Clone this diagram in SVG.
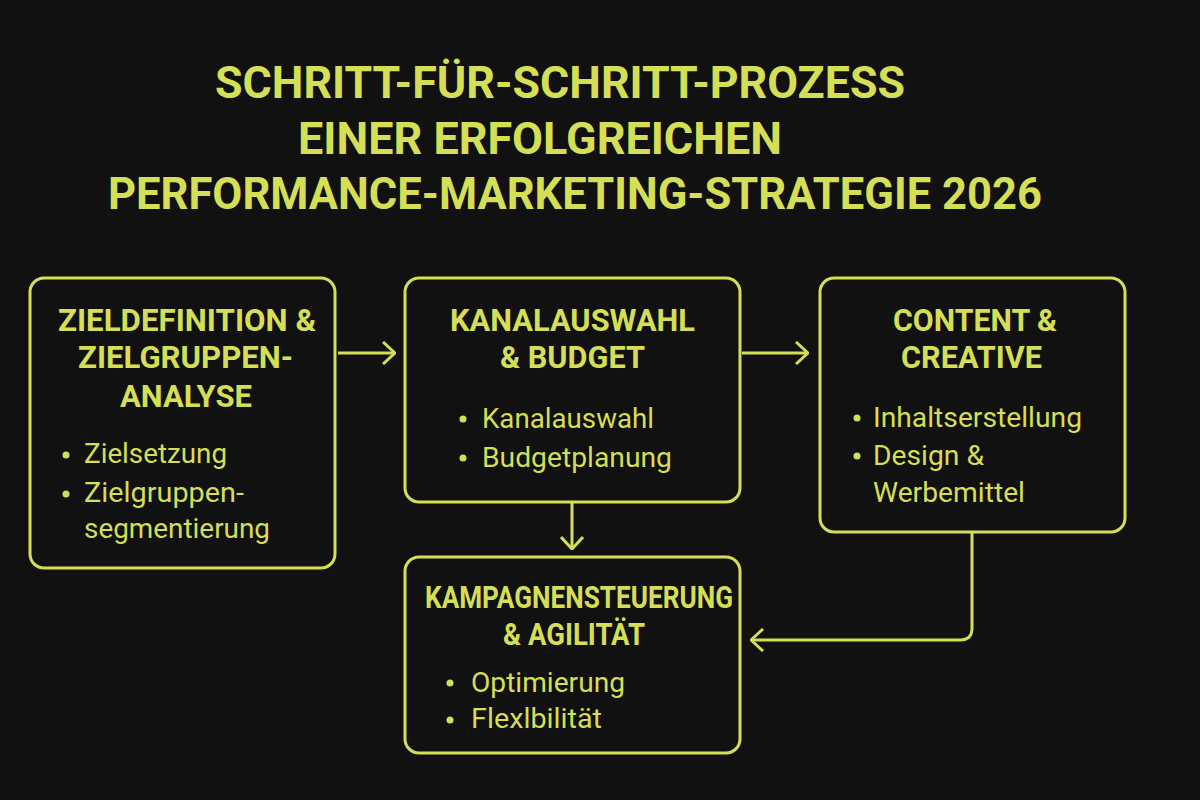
<svg xmlns="http://www.w3.org/2000/svg" width="1200" height="800" viewBox="0 0 1200 800">
<defs>
<style>
.bg{fill:#111111}
.box{fill:#111111;stroke:#d5df55;stroke-width:3}
.ttl{font-family:Roboto,"Liberation Sans",sans-serif;font-weight:700;fill:#d5df55}
.h{font-family:Roboto,"Liberation Sans",sans-serif;font-weight:700;font-size:31px;fill:#d5df55}
.b{font-family:Roboto,"Liberation Sans",sans-serif;font-weight:400;font-size:27px;fill:#d5df55}
.dot{fill:#d5df55}
.con{fill:none;stroke:#d5df55;stroke-width:3}
</style>
<marker id="arr" viewBox="0 0 14 24" refX="13" refY="12" markerWidth="14" markerHeight="24" markerUnits="userSpaceOnUse" orient="auto">
<path d="M1,1 L13,12 L1,23" fill="none" stroke="#d5df55" stroke-width="3"/>
</marker>
</defs>
<rect class="bg" x="0" y="0" width="1200" height="800"/>
<g id="title">
<text class="ttl" x="215" y="98" font-size="44" textLength="690" lengthAdjust="spacingAndGlyphs">SCHRITT-FÜR-SCHRITT-PROZESS</text>
<text class="ttl" x="298" y="154" font-size="44" textLength="484" lengthAdjust="spacingAndGlyphs">EINER ERFOLGREICHEN</text>
<text class="ttl" x="108" y="209" font-size="44" textLength="934" lengthAdjust="spacingAndGlyphs">PERFORMANCE-MARKETING-STRATEGIE 2026</text>
</g>
<g id="connectors">
<path class="con" d="M338,353 H395" marker-end="url(#arr)"/>
<path class="con" d="M742,353 H808" marker-end="url(#arr)"/>
<path class="con" d="M572,503 V549" marker-end="url(#arr)"/>
<path class="con" d="M972,533 V628 Q972,640 960,640 H751" marker-end="url(#arr)"/>
</g>
<g id="node1">
<rect class="box" x="30" y="278" width="305" height="290" rx="14"/>
<text class="h" x="58" y="331" textLength="258" lengthAdjust="spacingAndGlyphs">ZIELDEFINITION &amp;</text>
<text class="h" x="78" y="368" textLength="215" lengthAdjust="spacingAndGlyphs">ZIELGRUPPEN-</text>
<text class="h" x="120" y="407" textLength="132" lengthAdjust="spacingAndGlyphs">ANALYSE</text>
<circle class="dot" cx="66" cy="455" r="3.5"/>
<text class="b" x="84" y="463" textLength="143" lengthAdjust="spacingAndGlyphs">Zielsetzung</text>
<circle class="dot" cx="66" cy="494" r="3.5"/>
<text class="b" x="84" y="502" textLength="160" lengthAdjust="spacingAndGlyphs">Zielgruppen-</text>
<text class="b" x="84" y="538" textLength="186" lengthAdjust="spacingAndGlyphs">segmentierung</text>
</g>
<g id="node2">
<rect class="box" x="405" y="278" width="335" height="224" rx="14"/>
<text class="h" x="450" y="331" textLength="245" lengthAdjust="spacingAndGlyphs">KANALAUSWAHL</text>
<text class="h" x="500" y="368" textLength="145" lengthAdjust="spacingAndGlyphs">&amp; BUDGET</text>
<circle class="dot" cx="463" cy="419" r="3.5"/>
<text class="b" x="482" y="428" textLength="172" lengthAdjust="spacingAndGlyphs">Kanalauswahl</text>
<circle class="dot" cx="463" cy="458" r="3.5"/>
<text class="b" x="482" y="467" textLength="190" lengthAdjust="spacingAndGlyphs">Budgetplanung</text>
</g>
<g id="node3">
<rect class="box" x="820" y="278" width="305" height="254" rx="14"/>
<text class="h" x="893" y="331" textLength="164" lengthAdjust="spacingAndGlyphs">CONTENT &amp;</text>
<text class="h" x="901" y="368" textLength="141" lengthAdjust="spacingAndGlyphs">CREATIVE</text>
<circle class="dot" cx="857" cy="418" r="3.5"/>
<text class="b" x="873" y="427" textLength="209" lengthAdjust="spacingAndGlyphs">Inhaltserstellung</text>
<circle class="dot" cx="857" cy="456" r="3.5"/>
<text class="b" x="873" y="465" textLength="111" lengthAdjust="spacingAndGlyphs">Design &amp;</text>
<text class="b" x="873" y="502" textLength="152" lengthAdjust="spacingAndGlyphs">Werbemittel</text>
</g>
<g id="node4">
<rect class="box" x="405" y="557" width="335" height="196" rx="14"/>
<text class="h" x="425" y="608" textLength="308" lengthAdjust="spacingAndGlyphs">KAMPAGNENSTEUERUNG</text>
<text class="h" x="503" y="645" textLength="142" lengthAdjust="spacingAndGlyphs">&amp; AGILITÄT</text>
<circle class="dot" cx="450" cy="683" r="3.5"/>
<text class="b" x="471" y="692" textLength="154" lengthAdjust="spacingAndGlyphs">Optimierung</text>
<circle class="dot" cx="450" cy="720" r="3.5"/>
<text class="b" x="471" y="728" textLength="131" lengthAdjust="spacingAndGlyphs">Flexlbilität</text>
</g>
</svg>
